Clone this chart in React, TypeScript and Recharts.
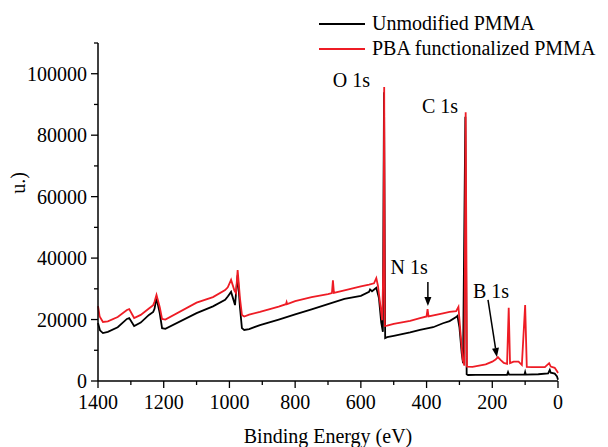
import * as React from 'react';
import { LineChart, Line, XAxis, YAxis, Legend, ReferenceDot, ReferenceLine } from 'recharts';

// binding energy (eV) / counts
const unmodEnergy = [1400, 1394, 1385, 1370, 1340, 1312, 1305, 1290, 1270, 1245, 1232, 1228, 1222, 1212, 1205, 1195, 1100, 1050, 1013, 1005, 995, 983, 975, 968, 962, 955, 940, 907, 850, 800, 750, 700, 650, 600, 575, 572, 566, 553, 545, 538, 533, 529.5, 526, 520, 500, 450, 420, 380, 350, 330, 310, 306, 300, 293, 289, 282, 278, 274, 250, 200, 155, 152, 149, 102, 100, 98, 60, 30, 25, 22, 10, 3, 0];
const unmodCounts = [18900, 16500, 15600, 16000, 17500, 20200, 20500, 17900, 19000, 21500, 22500, 23500, 27000, 22000, 17200, 17000, 22100, 24300, 26400, 27500, 29000, 24700, 34500, 24000, 17200, 16600, 16900, 18200, 20000, 21700, 23300, 25000, 26700, 27700, 29000, 29800, 29200, 30300, 27000, 19000, 16000, 94000, 14000, 14300, 14700, 15800, 16600, 17500, 18800, 19500, 20800, 21200, 17500, 9000, 5800, 86000, 2200, 1950, 2000, 2000, 2000, 2900, 2100, 2100, 2900, 2100, 2200, 2500, 3600, 2700, 2400, 1500, 400];

const pbaEnergy = [1400, 1395, 1385, 1370, 1340, 1312, 1305, 1290, 1270, 1245, 1232, 1228, 1222, 1212, 1205, 1195, 1100, 1050, 1013, 1005, 995, 985, 980, 975, 968, 962, 955, 940, 907, 850, 828, 826, 824, 800, 750, 700, 688, 685, 682, 650, 600, 575, 560, 553, 548, 540, 535, 531, 529, 527, 520, 500, 450, 420, 400, 397, 394, 350, 330, 310, 303, 297, 290, 285, 281, 277, 260, 220, 200, 190, 183, 175, 165, 155, 150, 146, 135, 120, 110, 100, 95, 80, 40, 27, 22, 10, 3, 0];
const pbaCounts = [24400, 21000, 19200, 19400, 20800, 23100, 23400, 20500, 21500, 23600, 24700, 25800, 28000, 24000, 20200, 20000, 25500, 27300, 29600, 30500, 32900, 29500, 28600, 36100, 27000, 21500, 21000, 21600, 22500, 24200, 25000, 25700, 25000, 26000, 27300, 28300, 28600, 32800, 28700, 29500, 30800, 31400, 31800, 33500, 31000, 24000, 19800, 40000, 95700, 17900, 18000, 18600, 19600, 20500, 21000, 23400, 21000, 22000, 22500, 22700, 24100, 16000, 7000, 5000, 87500, 4700, 4600, 5400, 6300, 7000, 7800, 6900, 5900, 5600, 23800, 5800, 6300, 6300, 5200, 24700, 4600, 4500, 4500, 5800, 4700, 4300, 3200, 2600];

const xTicks = [0, 100, 200, 300, 400, 500, 600, 700, 800, 900, 1000, 1100, 1200, 1300, 1400];
const yTicks = [0, 10000, 20000, 30000, 40000, 50000, 60000, 70000, 80000, 90000, 100000, 110000];

const peakLabels = [
  { text: 'O 1s', x: 629, y: 97800 },
  { text: 'C 1s', x: 359, y: 89500 },
  { text: 'N 1s', x: 453, y: 37000 },
  { text: 'B 1s', x: 204, y: 29300 },
];
const arrows = [
  { from: [396, 32200], to: [396, 24400] },
  { from: [213, 26400], to: [186, 7800] },
];

const unmodData = unmodEnergy.map((e, i) => ({ energy: e, counts: unmodCounts[i] }));
const pbaData = pbaEnergy.map((e, i) => ({ energy: e, counts: pbaCounts[i] }));

const FONT = "'Liberation Serif', 'Times New Roman', serif";
const RED = '#ee1c25';

const XTick = (props: any) => {
  const { x, y, payload } = props;
  const major = payload.value % 200 === 0;
  return (
    <g>
      <line x1={x} y1={y} x2={x} y2={y + (major ? 7 : 4)} stroke="#000" strokeWidth={1.3} />
      {major && (
        <text x={x} y={y + 28} textAnchor="middle" style={{ fontFamily: FONT }} fontSize={20} fill="#000">
          {payload.value}
        </text>
      )}
    </g>
  );
};

const YTick = (props: any) => {
  const { x, y, payload } = props;
  const major = payload.value % 20000 === 0;
  return (
    <g>
      <line x1={x - (major ? 7 : 4)} y1={y} x2={x} y2={y} stroke="#000" strokeWidth={1.3} />
      {major && (
        <text x={x - 11} y={y + 7} textAnchor="end" style={{ fontFamily: FONT }} fontSize={20} fill="#000">
          {payload.value}
        </text>
      )}
    </g>
  );
};

const LegendBox = () => (
  <div style={{ fontFamily: FONT, fontSize: 20, color: '#000', lineHeight: '25px' }}>
    {[
      { name: 'Unmodified PMMA', color: '#000' },
      { name: 'PBA functionalized PMMA', color: RED },
    ].map((it) => (
      <div key={it.name} style={{ display: 'flex', alignItems: 'center', whiteSpace: 'nowrap' }}>
        <span style={{ display: 'inline-block', width: 46, height: 2, background: it.color, marginRight: 7 }} />
        {it.name}
      </div>
    ))}
  </div>
);

const Arrow = (props: any) => {
  const { x1, y1, x2, y2 } = props;
  const a = Math.atan2(y2 - y1, x2 - x1);
  const len = 9, w = 3.5;
  const bx = x2 - len * Math.cos(a), by = y2 - len * Math.sin(a);
  const pts = `${x2},${y2} ${bx - w * Math.sin(a)},${by + w * Math.cos(a)} ${bx + w * Math.sin(a)},${by - w * Math.cos(a)}`;
  return (
    <g>
      <line x1={x1} y1={y1} x2={bx} y2={by} stroke="#000" strokeWidth={1.5} />
      <polygon points={pts} fill="#000" />
    </g>
  );
};

export default function App() {
  return (
    <div style={{ position: 'absolute', left: 0, top: 0, background: '#fff', fontFamily: FONT }}>
      <LineChart width={608} height={447} margin={{ top: 43, right: 50, left: 0, bottom: 0 }} style={{ fontFamily: FONT }}>
        <XAxis
          dataKey="energy"
          type="number"
          domain={[0, 1400]}
          reversed
          ticks={xTicks}
          interval={0}
          height={66}
          tickSize={0}
          tickMargin={0}
          tickLine={false}
          tick={<XTick />}
          axisLine={{ stroke: '#000', strokeWidth: 1.5 }}
          label={{
            content: (p: any) => (
              <text x={328} y={443} textAnchor="middle" style={{ fontFamily: FONT }} fontSize={20} fill="#000">
                Binding Energy (eV)
              </text>
            ),
          }}
        />
        <YAxis
          type="number"
          domain={[0, 110000]}
          ticks={yTicks}
          interval={0}
          width={98}
          tickSize={0}
          tickMargin={0}
          tickLine={false}
          tick={<YTick />}
          axisLine={{ stroke: '#000', strokeWidth: 1.5 }}
          label={{
            content: (p: any) => (
              <text
                x={18}
                y={183}
                transform="rotate(-90 18 183)"
                textAnchor="middle"
                dominantBaseline="central"
                style={{ fontFamily: FONT }}
                fontSize={20}
                fill="#000"
              >
                u.)
              </text>
            ),
          }}
        />
        <Legend
          layout="horizontal"
          verticalAlign="middle"
          align="center"
          wrapperStyle={{ top: 11, left: 319, width: 290, height: 52 }}
          content={<LegendBox />}
        />
        <Line data={unmodData} dataKey="counts" name="Unmodified PMMA" type="linear" stroke="#000" strokeWidth={1.8} dot={false} isAnimationActive={false} />
        <Line data={pbaData} dataKey="counts" name="PBA functionalized PMMA" type="linear" stroke={RED} strokeWidth={1.8} dot={false} isAnimationActive={false} />
        {arrows.map((a, i) => (
          <ReferenceLine
            key={`arrow-${i}`}
            segment={[{ x: a.from[0], y: a.from[1] }, { x: a.to[0], y: a.to[1] }]}
            ifOverflow="visible"
            shape={<Arrow />}
          />
        ))}
        {peakLabels.map((l) => (
          <ReferenceDot
            key={l.text}
            x={l.x}
            y={l.y}
            ifOverflow="visible"
            shape={(p: any) => (
              <text x={p.cx} y={p.cy} textAnchor="middle" dominantBaseline="central" style={{ fontFamily: FONT }} fontSize={20} fill="#000">
                {l.text}
              </text>
            )}
          />
        ))}
      </LineChart>
    </div>
  );
}
